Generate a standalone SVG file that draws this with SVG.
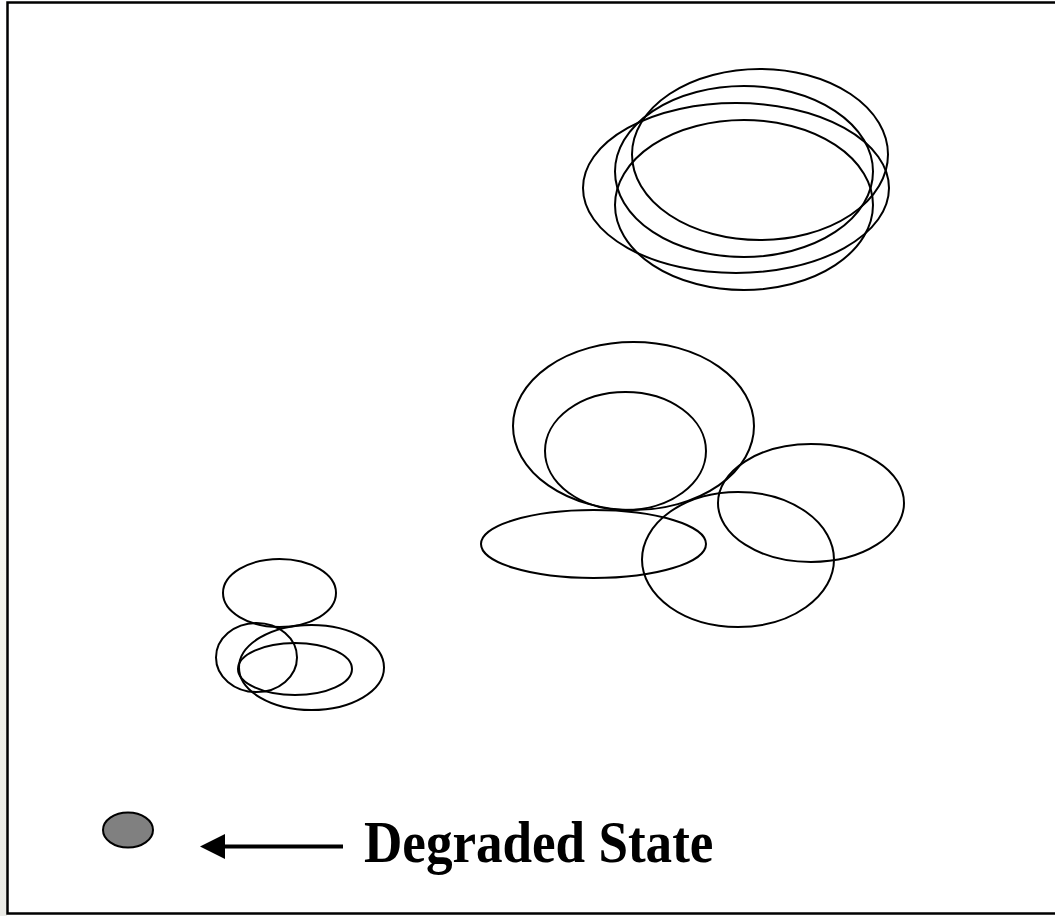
<svg xmlns="http://www.w3.org/2000/svg" width="1055" height="916" viewBox="0 0 1055 916">
  <defs>
    <style>
      .st { fill: none; stroke: #000; stroke-width: 2; }
      .frame { fill: none; stroke: #000; stroke-width: 2.5; }
      .label { font-family: "Liberation Serif", "Times New Roman", serif; font-weight: bold; font-size: 59px; fill: #000; }
    </style>
    <linearGradient id="edge" x1="0" y1="0" x2="0" y2="1">
      <stop offset="0" stop-color="#ffffff"/>
      <stop offset="0.4" stop-color="#fcfcf8"/>
      <stop offset="0.7" stop-color="#f1f1e9"/>
      <stop offset="1" stop-color="#eaeae5"/>
    </linearGradient>
  </defs>
  <rect x="0" y="0" width="1055" height="916" fill="#ffffff"/>
  <rect x="0" y="0" width="7" height="916" fill="url(#edge)"/>
  <path class="frame" d="M1055,2.5 H7.5 V913.5 H1055"/>

  <g id="cluster-top">
    <ellipse class="st" cx="760" cy="154.5" rx="128" ry="85.5"/>
    <ellipse class="st" cx="744" cy="171.5" rx="129" ry="85.5"/>
    <ellipse class="st" cx="736" cy="188" rx="153" ry="85"/>
    <ellipse class="st" cx="744" cy="205" rx="129" ry="85"/>
  </g>

  <g id="cluster-middle">
    <ellipse class="st" cx="633.5" cy="426" rx="120.5" ry="84"/>
    <ellipse class="st" cx="625.5" cy="451" rx="80.5" ry="59"/>
    <ellipse class="st" cx="593.5" cy="544" rx="112.5" ry="34"/>
    <ellipse class="st" cx="811" cy="503" rx="93" ry="59"/>
    <ellipse class="st" cx="738" cy="559.5" rx="96" ry="67.5"/>
  </g>

  <g id="cluster-bottom">
    <ellipse class="st" cx="279.5" cy="593" rx="56.5" ry="34"/>
    <ellipse class="st" cx="256.5" cy="657.5" rx="40.5" ry="34.5"/>
    <ellipse class="st" cx="311.5" cy="667.5" rx="72.5" ry="42.5"/>
    <ellipse class="st" cx="295" cy="669" rx="57" ry="26"/>
  </g>

  <g id="legend-node">
    <ellipse cx="128" cy="830" rx="25" ry="17.5" fill="#808080" stroke="#000" stroke-width="2"/>
  </g>

  <g id="connectors">
    <line x1="343" y1="846.5" x2="224" y2="846.5" stroke="#000" stroke-width="4"/>
    <polygon points="200,846.5 225,834 225,859" fill="#000"/>
  </g>

  <g id="legend-label">
    <text class="label" transform="translate(364,862) scale(0.9,1)" x="0" y="0">Degraded State</text>
  </g>
</svg>
